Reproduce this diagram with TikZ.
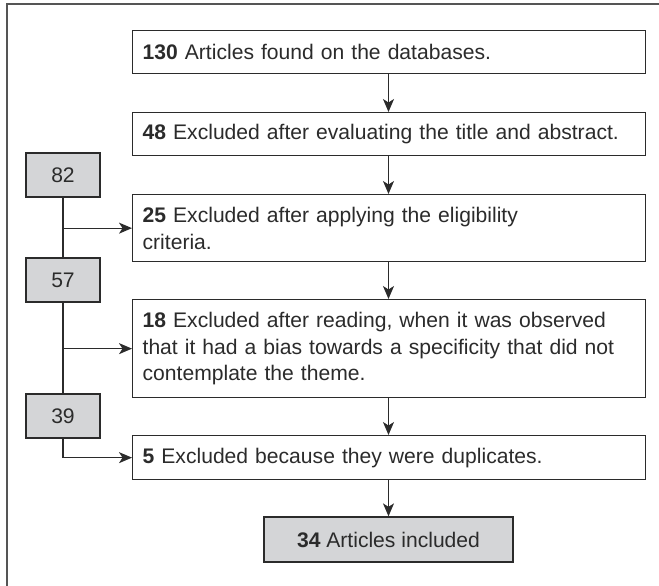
\documentclass[tikz,border=0pt]{standalone}
\usepackage{fontspec}
\setmainfont{Liberation Sans}
\usetikzlibrary{arrows.meta}
\definecolor{ln}{HTML}{2B2B2B}
\definecolor{gfill}{HTML}{D4D5D7}
\tikzset{
  wbox/.style={draw=ln, line width=1.3pt, fill=white, anchor=north west, text width=493pt, inner xsep=10pt, inner ysep=0pt, align=left, font=\fontsize{21.1}{26.8}\selectfont, text=ln},
  gbox/.style={draw=ln, line width=1.3pt, fill=gfill, minimum width=74pt, minimum height=44pt, inner sep=0pt, font=\fontsize{21.1}{26.8}\selectfont, text=ln},
  arr/.style={draw=ln, line width=1.3pt, -{Stealth[length=13pt,width=11pt,inset=3.5pt]}},
  conn/.style={draw=ln, line width=1.3pt}
}
\begin{document}
\begin{tikzpicture}[x=1pt,y=-1pt]
\useasboundingbox (0,0) rectangle (659,586);
\draw[conn, draw=ln!80] (7,586) -- (7,4) -- (659,4);
\node[wbox, minimum height=43pt] (b1) at (132,30) {\textbf{130} Articles found on the databases.};
\node[wbox, minimum height=43pt] (b2) at (132,112) {\textbf{48} Excluded after evaluating the title and abstract.};
\node[wbox, minimum height=67pt] (b3) at (132,194) {\textbf{25} Excluded after applying the eligibility\\criteria.};
\node[wbox, minimum height=98pt] (b4) at (132,299) {\textbf{18} Excluded after reading, when it was observed\\that it had a bias towards a specificity that did not\\contemplate the theme.};
\node[wbox, minimum height=44pt] (b5) at (132,435) {\textbf{5} Excluded because they were duplicates.};
\node[gbox, minimum width=249pt, minimum height=45pt] (b6) at (388.5,539.5) {\textbf{34} Articles included};
\node[gbox] (g1) at (63,175) {82};
\node[gbox] (g2) at (63,280) {57};
\node[gbox] (g3) at (63,416) {39};
\draw[arr] (b1.south -| b6.north) -- (b2.north -| b6.north);
\draw[arr] (b2.south -| b6.north) -- (b3.north -| b6.north);
\draw[arr] (b3.south -| b6.north) -- (b4.north -| b6.north);
\draw[arr] (b4.south -| b6.north) -- (b5.north -| b6.north);
\draw[arr] (b5.south -| b6.north) -- (b6.north);
\draw[conn] (g1.south) -- (g2.north);
\draw[conn] (g2.south) -- (g3.north);
\draw[arr] (g1.south |- b3.west) -- (b3.west);
\draw[arr] (g1.south |- b4.west) -- (b4.west);
\draw[arr] (g3.south) |- (b5.west);
\end{tikzpicture}
\end{document}
